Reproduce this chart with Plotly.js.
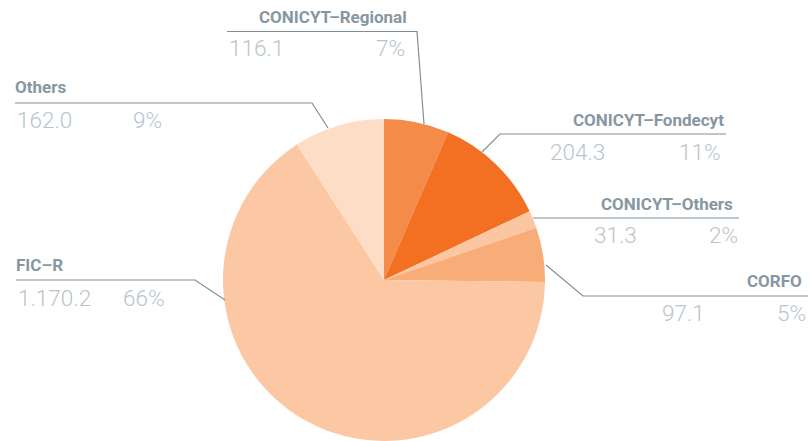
<!DOCTYPE html>
<html>
<head>
<meta charset="utf-8">
<script src="https://cdn.plot.ly/plotly-3.0.1.min.js"></script>
<style>html,body{margin:0;padding:0;background:#fff;}#chart{width:810px;height:441px;}</style>
</head>
<body>
<div id="chart"></div>
<script>
// ---- data ----
const categories = ["CONICYT–Regional", "CONICYT–Fondecyt", "CONICYT–Others", "CORFO", "FIC–R", "Others"];
const values = [116.1, 204.3, 31.3, 97.1, 1170.2, 162.0];
const colors = ["#F58B48", "#F37022", "#FBC7A2", "#F8AC78", "#FBC8A3", "#FDDDC6"];

// ---- label layout (pixel positions) ----
const labelPos = [
  {tx: 409, ta: "right", tb: 23, vl: 227, vr: 407, vb: 56, path: [[227,31.5],[417,31.5],[424,124]]},
  {tx: 726, ta: "right", tb: 126, vl: 548, vr: 723, vb: 160, path: [[726,134],[500,134],[482,152]]},
  {tx: 735, ta: "right", tb: 210, vl: 592, vr: 740, vb: 243, path: [[533,218],[739,218]]},
  {tx: 804, ta: "right", tb: 287, vl: 660, vr: 808, vb: 321, path: [[546,265],[583,296],[808,296]]},
  {tx: 14, ta: "left", tb: 271, vl: 16, vr: 167, vb: 306, path: [[16,280],[195,280],[225,300]]},
  {tx: 13, ta: "left", tb: 93, vl: 15, vr: 164, vb: 128, path: [[15,103],[312,103],[328,128]]}
];

const W = 810, H = 441;
const FONT = "Roboto, 'Noto Sans', sans-serif";
const TITLE_SIZE = 17, VAL_SIZE = 22.5;
const TITLE_COLOR = "#8797A1", VAL_COLOR = "#B9C4CB", LINE_COLOR = "#7F8F99";

const total = values.reduce((a, b) => a + b, 0);
function fmtVal(v) {
  const parts = v.toFixed(1).split(".");
  const intPart = parts[0].replace(/\B(?=(\d{3})+(?!\d))/g, ".");
  return intPart + "." + parts[1];
}
const px = x => x / W;
const py = y => 1 - y / H;

const annotations = [];
const shapes = [];
categories.forEach((c, i) => {
  const p = labelPos[i];
  annotations.push({
    xref: "paper", yref: "paper", x: px(p.tx), y: py(p.tb - 0.35 * TITLE_SIZE),
    xanchor: p.ta, yanchor: "middle", showarrow: false, text: c,
    font: {family: FONT, size: TITLE_SIZE, color: TITLE_COLOR, weight: 700}
  });
  annotations.push({
    xref: "paper", yref: "paper", x: px(p.vl), y: py(p.vb - 0.35 * VAL_SIZE),
    xanchor: "left", yanchor: "middle", showarrow: false, text: fmtVal(values[i]),
    font: {family: FONT, size: VAL_SIZE, color: VAL_COLOR, weight: 300}
  });
  annotations.push({
    xref: "paper", yref: "paper", x: px(p.vr), y: py(p.vb - 0.35 * VAL_SIZE),
    xanchor: "right", yanchor: "middle", showarrow: false,
    text: Math.round(values[i] / total * 100) + "%",
    font: {family: FONT, size: VAL_SIZE, color: VAL_COLOR, weight: 300}
  });
  const d = p.path.map((pt, k) => (k ? "L" : "M") + px(pt[0]) + "," + py(pt[1])).join(" ");
  shapes.push({type: "path", xref: "paper", yref: "paper", path: d, line: {color: LINE_COLOR, width: 1.2}});
});

const trace = {
  type: "pie",
  labels: categories,
  values: values,
  marker: {colors: colors, line: {width: 0}},
  sort: false,
  direction: "clockwise",
  rotation: 0,
  textinfo: "none",
  hoverinfo: "none",
  domain: {x: [px(384 - 161), px(384 + 161)], y: [0, 322 / H]}
};

Plotly.newPlot("chart", [trace], {
  width: W, height: H,
  margin: {l: 0, r: 0, t: 0, b: 0},
  showlegend: false,
  paper_bgcolor: "#fff",
  annotations: annotations,
  shapes: shapes
}, {displayModeBar: false, staticPlot: true});
</script>
</body>
</html>
